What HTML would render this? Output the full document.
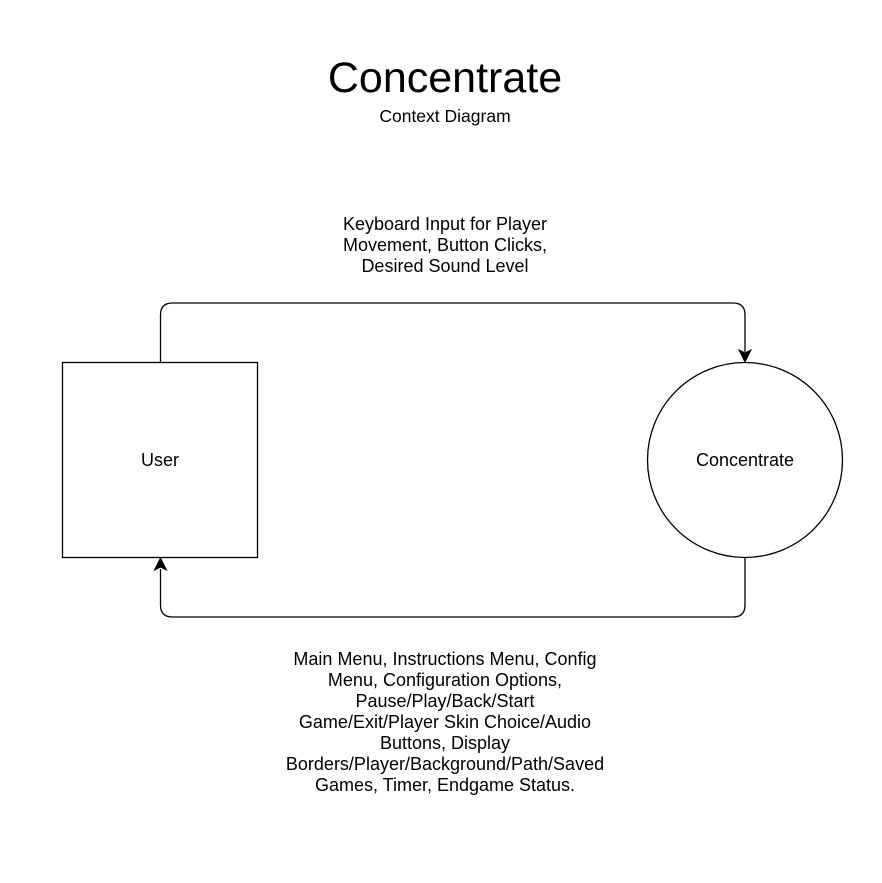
<!DOCTYPE html>
<html><head><meta charset="utf-8"><style>
html,body{margin:0;padding:0;background:#fff;}
svg{display:block;font-family:"Liberation Sans",Arial,sans-serif;}
</style></head><body>
<svg width="882" height="883" viewBox="0 0 882 883" xmlns="http://www.w3.org/2000/svg">
<rect width="882" height="883" fill="#fff"/>
<text x="445" y="92" font-size="43" text-anchor="middle" fill="#000">Concentrate</text>
<text x="445" y="122" font-size="17.5" text-anchor="middle" fill="#000">Context Diagram</text>
<g font-size="18" text-anchor="middle" fill="#000">
<text x="445" y="230">Keyboard Input for Player</text>
<text x="445" y="251">Movement, Button Clicks,</text>
<text x="445" y="272">Desired Sound Level</text>
</g>
<rect x="62.5" y="362.5" width="195" height="195" fill="#fff" stroke="#000" stroke-width="1.3"/>
<text x="160" y="466" font-size="18" text-anchor="middle">User</text>
<circle cx="745" cy="460" r="97.5" fill="#fff" stroke="#000" stroke-width="1.3"/>
<text x="745" y="466" font-size="18" text-anchor="middle">Concentrate</text>
<path d="M160.5 362 V315 Q160.5 303 172.5 303 H733 Q745 303 745 315 V352" fill="none" stroke="#000" stroke-width="1.3"/>
<path d="M739 350 L745 362 L751 350 L745 353 Z" fill="#000" stroke="#000"/>
<path d="M745 557.5 V605 Q745 617 733 617 H172.5 Q160.5 617 160.5 605 V569" fill="none" stroke="#000" stroke-width="1.3"/>
<path d="M154.5 570 L160.5 558 L166.5 570 L160.5 567 Z" fill="#000" stroke="#000"/>
<g font-size="18" text-anchor="middle" fill="#000">
<text x="445" y="665">Main Menu, Instructions Menu, Config</text>
<text x="445" y="686">Menu, Configuration Options,</text>
<text x="445" y="707">Pause/Play/Back/Start</text>
<text x="445" y="728">Game/Exit/Player Skin Choice/Audio</text>
<text x="445" y="749">Buttons, Display</text>
<text x="445" y="770">Borders/Player/Background/Path/Saved</text>
<text x="445" y="791">Games, Timer, Endgame Status.</text>
</g>
</svg>
</body></html>
